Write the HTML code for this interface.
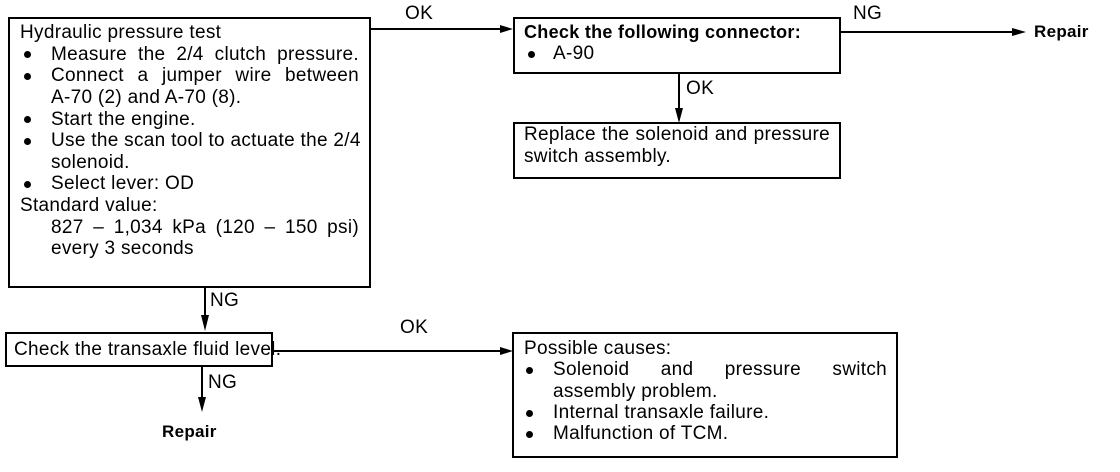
<!DOCTYPE html>
<html><head><meta charset="utf-8"><style>
body{margin:0;width:1120px;height:472px;background:#fff;position:relative;overflow:hidden;font-family:"Liberation Sans",Arial,sans-serif;color:#000;font-size:19px;letter-spacing:0.3px;}
.b{position:absolute;border:2px solid #000;box-sizing:border-box;}
.t{position:absolute;white-space:nowrap;line-height:22px;}
.j{position:absolute;text-align:justify;text-align-last:justify;line-height:22px;white-space:nowrap;}
.bul{position:absolute;width:7px;height:7px;border-radius:50%;background:#000;}
.bold{font-weight:bold;}
</style></head><body>
<svg width="1120" height="472" style="position:absolute;left:0;top:0">
<g stroke="#000" stroke-width="2" fill="#000">
<line x1="370" y1="29" x2="506" y2="29"/><polygon points="513,29 500,25 500,33" stroke="none"/>
<line x1="841" y1="32" x2="1018" y2="32"/><polygon points="1026,32 1012,28 1012,36" stroke="none"/>
<line x1="679" y1="73" x2="679" y2="114"/><polygon points="679,123 675,108 683,108" stroke="none"/>
<line x1="205" y1="287" x2="205" y2="320"/><polygon points="205,331 201,315 209,315" stroke="none"/>
<line x1="272" y1="351" x2="505" y2="351"/><polygon points="513,351 500,347 500,355" stroke="none"/>
<line x1="202" y1="366" x2="202" y2="402"/><polygon points="202,412 198,397 206,397" stroke="none"/>
</g></svg>
<div class="b" style="left:8px;top:17px;width:363px;height:271px"></div>
<div class="t" style="left:20px;top:22px">Hydraulic pressure test</div>
<div class="bul" style="left:24px;top:51px"></div><div class="j" style="left:51px;top:44px;width:308px">Measure the 2/4 clutch pressure.</div>
<div class="bul" style="left:24px;top:73px"></div><div class="j" style="left:51px;top:65px;width:308px">Connect a jumper wire between</div>
<div class="t" style="left:51px;top:87px">A-70 (2) and A-70 (8).</div>
<div class="bul" style="left:24px;top:116px"></div><div class="t" style="left:51px;top:109px">Start the engine.</div>
<div class="bul" style="left:24px;top:138px"></div><div class="j" style="left:51px;top:130px;width:308px">Use the scan tool to actuate the 2/4</div>
<div class="t" style="left:51px;top:152px">solenoid.</div>
<div class="bul" style="left:24px;top:181px"></div><div class="t" style="left:51px;top:173px">Select lever: OD</div>
<div class="t" style="left:20px;top:195px">Standard value:</div>
<div class="j" style="left:51px;top:217px;width:308px">827 – 1,034 kPa (120 – 150 psi)</div>
<div class="t" style="left:51px;top:238px">every 3 seconds</div>
<div class="t" style="left:405px;top:3px">OK</div>
<div class="b" style="left:513px;top:17px;width:328px;height:57px"></div>
<div class="t bold" style="left:524px;top:21px;font-size:18px">Check the following connector:</div>
<div class="bul" style="left:528px;top:51px"></div><div class="t" style="left:553px;top:43px">A-90</div>
<div class="t" style="left:853px;top:3px">NG</div>
<div class="t bold" style="left:1034px;top:21px;font-size:17px">Repair</div>
<div class="t" style="left:686px;top:78px">OK</div>
<div class="b" style="left:513px;top:122px;width:328px;height:57px"></div>
<div class="j" style="left:524px;top:124px;width:306px">Replace the solenoid and pressure</div>
<div class="t" style="left:524px;top:146px">switch assembly.</div>
<div class="t" style="left:210px;top:290px">NG</div>
<div class="b" style="left:5px;top:332px;width:268px;height:35px"></div>
<div class="t" style="left:14px;top:339px">Check the transaxle fluid level.</div>
<div class="t" style="left:400px;top:317px">OK</div>
<div class="t" style="left:208px;top:372px">NG</div>
<div class="t bold" style="left:162px;top:421px;font-size:17px">Repair</div>
<div class="b" style="left:512px;top:332px;width:386px;height:126px"></div>
<div class="t" style="left:524px;top:338px">Possible causes:</div>
<div class="bul" style="left:526px;top:367px"></div><div class="j" style="left:553px;top:359px;width:334px">Solenoid and pressure switch</div>
<div class="t" style="left:553px;top:381px">assembly problem.</div>
<div class="bul" style="left:526px;top:410px"></div><div class="t" style="left:553px;top:402px">Internal transaxle failure.</div>
<div class="bul" style="left:526px;top:431px"></div><div class="t" style="left:553px;top:423px">Malfunction of TCM.</div>
</body></html>
